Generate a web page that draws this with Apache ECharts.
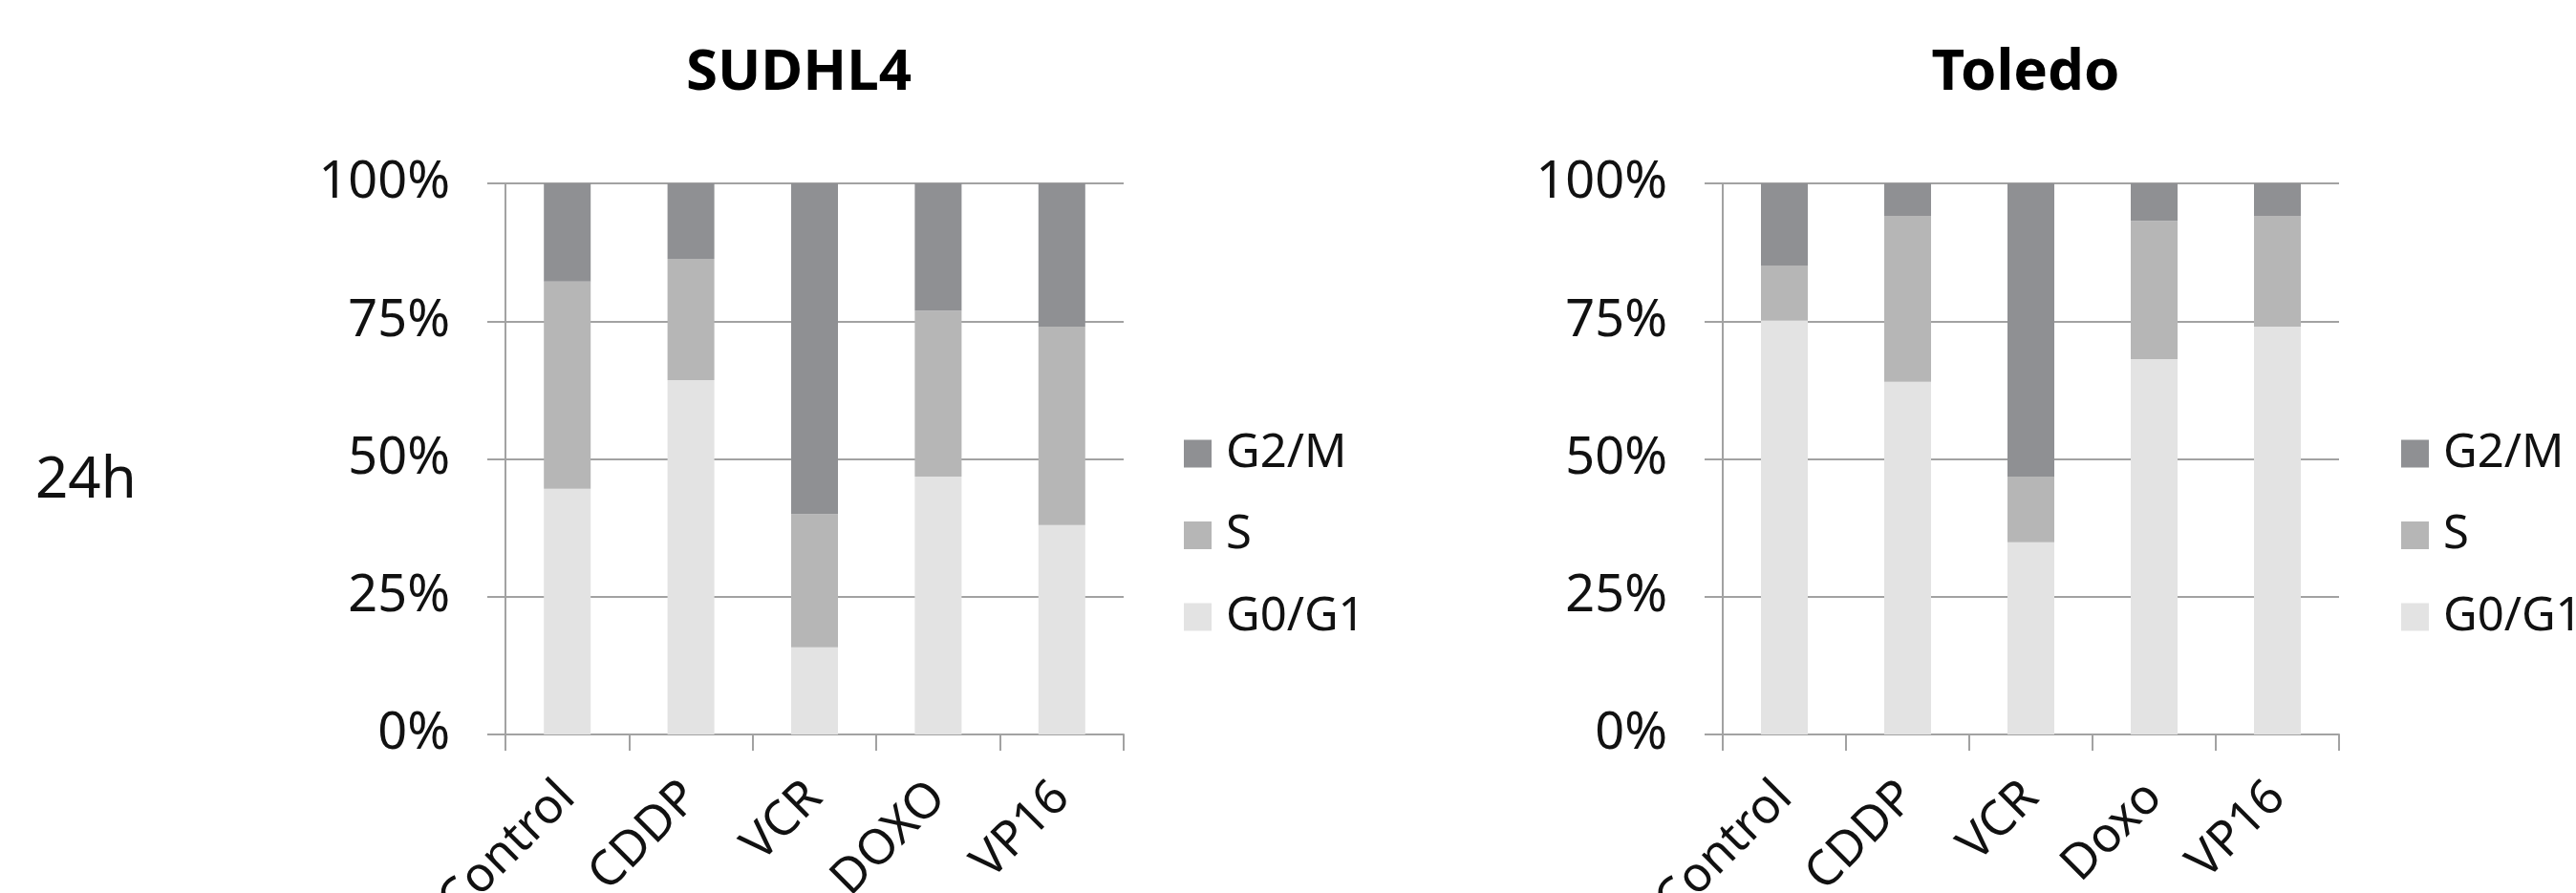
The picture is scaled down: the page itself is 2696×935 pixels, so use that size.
<!DOCTYPE html>
<html>
<head>
<meta charset="utf-8">
<script src="https://cdn.jsdelivr.net/npm/echarts@6/dist/echarts.min.js"></script>
<style>
  html, body { margin: 0; padding: 0; background: #fff; }
  #main { width: 2696px; height: 935px; }
</style>
</head>
<body>
<div id="main"></div>
<script>
// categories
const sudCategories = ['Control', 'CDDP', 'VCR', 'DOXO', 'VP16']
const tolCategories = ['Control', 'CDDP', 'VCR', 'Doxo', 'VP16']
const yTicks = [0, 25, 50, 75, 100]

// SUDHL4 (%)
const sudG0G1 = [44.6, 64.3, 15.8, 46.8, 38.0]
const sudS = [37.6, 22.0, 24.2, 30.1, 36.0]
const sudG2M = [17.8, 13.7, 60.0, 23.1, 26.0]

// Toledo (%)
const tolG0G1 = [75.1, 64.0, 34.9, 68.1, 74.0]
const tolS = [10.0, 30.1, 11.9, 25.1, 20.1]
const tolG2M = [14.9, 5.9, 53.2, 6.8, 5.9]

const FONT = "'Noto Sans', 'Open Sans', sans-serif"
const LINE = '#a2a2a2'
const colors = { 'G0/G1': '#e3e3e3', 'S': '#b6b6b6', 'G2/M': '#8f9093' }

const chart = echarts.init(document.getElementById('main'))

function xAxisFor(idx, cats) {
  return {
    type: 'category',
    gridIndex: idx,
    data: cats,
    axisLine: { lineStyle: { color: LINE, width: 2 } },
    axisTick: { show: true, length: 17, lineStyle: { color: LINE, width: 2 } },
    axisLabel: {
      rotate: 45,
      interval: 0,
      margin: 58,
      color: '#111',
      fontFamily: FONT,
      fontSize: 51,
    },
  }
}

function yAxisFor(idx) {
  return {
    type: 'value',
    gridIndex: idx,
    min: yTicks[0],
    max: yTicks[yTicks.length - 1],
    interval: 25,
    axisLine: { show: true, lineStyle: { color: LINE, width: 2 } },
    axisTick: { show: true, length: 19, lineStyle: { color: LINE, width: 2 } },
    splitLine: { show: true, lineStyle: { color: LINE, width: 2 } },
    axisLabel: {
      formatter: '{value}%',
      margin: 58,
      color: '#111',
      fontFamily: FONT,
      fontSize: 54,
    },
  }
}

function barSeries(name, idx, data) {
  return {
    type: 'bar',
    name: name,
    xAxisIndex: idx,
    yAxisIndex: idx,
    stack: 'cells' + idx,
    barWidth: 49,
    data: data,
    itemStyle: { color: colors[name] },
  }
}

function legendAt(left) {
  return {
    orient: 'vertical',
    left: left,
    top: 450,
    padding: 0,
    icon: 'rect',
    itemWidth: 29,
    itemHeight: 29,
    itemGap: 35.5,
    data: ['G2/M', 'S', 'G0/G1'],
    textStyle: {
      color: '#111',
      fontFamily: FONT,
      fontSize: 49,
      lineHeight: 50,
      padding: [0, 0, 0, 10],
    },
  }
}

const titleStyle = { color: '#000', fontFamily: FONT, fontWeight: 'bold', fontSize: 60, lineHeight: 62 }

const option = {
  animation: false,
  backgroundColor: '#fff',
  title: [
    { text: 'SUDHL4', left: 836, top: 46, textAlign: 'center', padding: 0, textStyle: titleStyle },
    { text: 'Toledo', left: 2120, top: 46, textAlign: 'center', padding: 0, textStyle: titleStyle },
  ],
  graphic: [
    {
      type: 'text',
      left: 37,
      top: 474,
      style: { text: '24h', fill: '#111', font: '60px ' + FONT },
    },
  ],
  legend: [legendAt(1239), legendAt(2513)],
  grid: [
    { left: 529, top: 192, width: 647, height: 577, outerBoundsMode: 'none' },
    { left: 1803, top: 192, width: 645, height: 577, outerBoundsMode: 'none' },
  ],
  xAxis: [xAxisFor(0, sudCategories), xAxisFor(1, tolCategories)],
  yAxis: [yAxisFor(0), yAxisFor(1)],
  series: [
    barSeries('G0/G1', 0, sudG0G1),
    barSeries('S', 0, sudS),
    barSeries('G2/M', 0, sudG2M),
    barSeries('G0/G1', 1, tolG0G1),
    barSeries('S', 1, tolS),
    barSeries('G2/M', 1, tolG2M),
  ],
}

chart.setOption(option)
</script>
</body>
</html>
